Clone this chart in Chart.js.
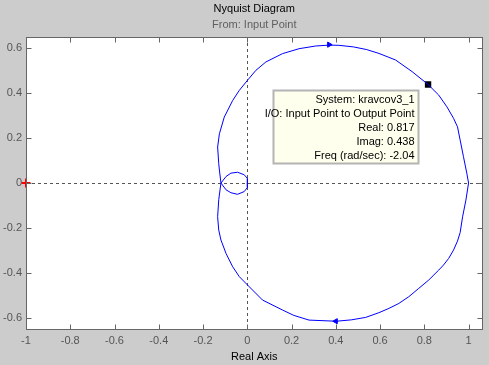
<!DOCTYPE html>
<html>
<head>
<meta charset="utf-8">
<script src="https://cdn.jsdelivr.net/npm/chart.js@4"></script>
<style>
  html, body { margin: 0; padding: 0; background: #cccccc; }
  #wrap { width: 489px; height: 365px; }
  canvas { background: #cccccc; }
</style>
</head>
<body>
<div id="wrap"><canvas id="myChart" width="489" height="365"></canvas></div>
<script>
// axis ticks
const xTickValues = [-1, -0.8, -0.6, -0.4, -0.2, 0, 0.2, 0.4, 0.6, 0.8, 1];
const yTickValues = [-0.6, -0.4, -0.2, 0, 0.2, 0.4, 0.6];

// nyquist curve (real, imag), starting at w = 0
const curveRe = [
  1.000, 0.988, 0.973, 0.962, 0.950, 0.932, 0.910, 0.887, 0.865, 0.820,
  0.775, 0.730, 0.685, 0.640, 0.595, 0.535, 0.470, 0.402, 0.279, 0.210,
  0.159, 0.069, 0.001, -0.036, -0.066, -0.096, -0.119, -0.129, -0.134, -0.129,
  -0.119,
  -0.096, -0.074, -0.044, -0.014, 0.001, 0.000,
  0.001, -0.014, -0.044, -0.074, -0.096, -0.119,
  -0.126, -0.129, -0.134, -0.126, -0.104, -0.066, -0.036, 0.003, 0.039, 0.084,
  0.159, 0.234, 0.309, 0.370, 0.414, 0.480, 0.540, 0.595, 0.670, 0.745,
  0.817, 0.865, 0.902, 0.932, 0.950, 0.962, 0.977, 0.992, 1.000
];
const curveIm = [
  0.000, -0.076, -0.150, -0.220, -0.258, -0.298, -0.335, -0.364, -0.387, -0.431,
  -0.468, -0.505, -0.535, -0.557, -0.576, -0.597, -0.608, -0.614, -0.609, -0.588,
  -0.564, -0.520, -0.453, -0.416, -0.372, -0.313, -0.253, -0.209, -0.150, -0.074,
  0.000,
  0.029, 0.044, 0.048, 0.037, 0.020, 0.000,
  -0.020, -0.038, -0.050, -0.043, -0.030, 0.000,
  0.058, 0.086, 0.160, 0.219, 0.293, 0.367, 0.412, 0.459, 0.501, 0.538,
  0.575, 0.597, 0.609, 0.613, 0.612, 0.605, 0.593, 0.576, 0.547, 0.495,
  0.438, 0.391, 0.339, 0.288, 0.250, 0.191, 0.117, 0.044, 0.000
];

// direction arrows
const arrowRe = [0.37, 0.40];
const arrowIm = [0.615, -0.614];

// data tip
const tipRe = 0.817;
const tipIm = 0.438;
const tipLines = [
  'System: kravcov3_1',
  'I/O: Input Point to Output Point',
  'Real: 0.817',
  'Imag: 0.438',
  'Freq (rad/sec): -2.04'
];

// critical point
const critRe = [-1];
const critIm = [0];

const FONT = 'Liberation Sans, Arial, sans-serif';
const toPoints = (re, im) => re.map((r, i) => ({ x: r, y: im[i] }));

const axesBox = {
  id: 'axesBox',
  beforeDatasetsDraw(chart) {
    const { ctx, chartArea: a, scales: { x, y } } = chart;
    ctx.save();
    ctx.fillStyle = '#ffffff';
    ctx.fillRect(a.left, a.top, a.right - a.left, a.bottom - a.top);
    // dashed zero lines
    ctx.strokeStyle = '#555555';
    ctx.lineWidth = 1;
    ctx.setLineDash([3, 3]);
    const x0 = Math.round(x.getPixelForValue(0)) + 0.5;
    const y0 = Math.round(y.getPixelForValue(0)) + 0.5;
    ctx.beginPath();
    ctx.moveTo(x0, a.top); ctx.lineTo(x0, a.bottom);
    ctx.moveTo(a.left, y0); ctx.lineTo(a.right, y0);
    ctx.stroke();
    ctx.restore();
  },
  afterDatasetsDraw(chart) {
    const { ctx, chartArea: a, scales: { x, y } } = chart;
    ctx.save();
    ctx.strokeStyle = '#666666';
    ctx.lineWidth = 1;
    const L = Math.round(a.left) + 0.5, R = Math.round(a.right) - 0.5;
    const T = Math.round(a.top) + 0.5, B = Math.round(a.bottom) - 0.5;
    ctx.beginPath();
    xTickValues.forEach(v => {
      const p = Math.round(x.getPixelForValue(v)) + 0.5;
      ctx.moveTo(p, T); ctx.lineTo(p, T + 5);
      ctx.moveTo(p, B); ctx.lineTo(p, B - 5);
    });
    yTickValues.forEach(v => {
      const p = Math.round(y.getPixelForValue(v)) + 0.5;
      ctx.moveTo(L, p); ctx.lineTo(L + 5, p);
      ctx.moveTo(R, p); ctx.lineTo(R - 5, p);
    });
    ctx.stroke();
    ctx.strokeRect(L, T, R - L, B - T);
    ctx.restore();
  },
  afterDraw(chart) {
    // data tip text box, hung off the marked point
    const { ctx, scales: { x, y } } = chart;
    const px = x.getPixelForValue(tipRe);
    const py = y.getPixelForValue(tipIm);
    const right = Math.round(px - 10) + 0.5;
    const top = Math.round(py + 6) + 0.5;
    const w = 145, h = 73;
    ctx.save();
    ctx.fillStyle = '#ffffee';
    ctx.strokeStyle = '#b4b4b4';
    ctx.fillRect(right - w, top, w, h);
    ctx.strokeRect(right - w, top, w, h);
    ctx.fillStyle = '#000000';
    ctx.font = '11px ' + FONT;
    ctx.textAlign = 'right';
    ctx.textBaseline = 'middle';
    tipLines.forEach((t, i) => ctx.fillText(t, right - 4, top + 9 + i * 14));
    ctx.restore();
  }
};

const ctx = document.getElementById('myChart').getContext('2d');
new Chart(ctx, {
  type: 'scatter',
  data: {
    datasets: [
      {
        data: toPoints(curveRe, curveIm),
        showLine: true,
        borderColor: '#0000ff',
        borderWidth: 1,
        pointRadius: 0,
        tension: 0,
      },
      {
        data: toPoints(arrowRe, arrowIm),
        pointStyle: 'triangle',
        rotation: [90, -90],
        pointRadius: 3,
        borderWidth: 1,
        borderColor: '#0000ff',
        backgroundColor: '#0000ff',
      },
      {
        data: [{ x: tipRe, y: tipIm }],
        pointStyle: 'rect',
        pointRadius: 4.5,
        borderWidth: 0,
        backgroundColor: '#000000',
      },
      {
        data: toPoints(critRe, critIm),
        pointStyle: 'cross',
        pointRadius: 4.5,
        borderWidth: 2,
        borderColor: '#ff0000',
        clip: false,
      },
    ],
  },
  options: {
    responsive: false,
    animation: false,
    events: [],
    layout: { padding: { left: 0, right: 5, top: 0, bottom: 0 } },
    plugins: {
      legend: { display: false },
      tooltip: { enabled: false },
      title: {
        display: true,
        fullSize: false,
        text: 'Nyquist Diagram',
        color: '#000000',
        font: { family: FONT, size: 11, weight: 'normal' },
        padding: { top: 2, bottom: 3 },
      },
      subtitle: {
        display: true,
        fullSize: false,
        text: 'From: Input Point',
        color: '#606060',
        font: { family: FONT, size: 11, weight: 'normal' },
        padding: { top: 0, bottom: 5.6 },
      },
    },
    scales: {
      x: {
        type: 'linear',
        min: -1,
        max: 1.063,
        afterBuildTicks: scale => { scale.ticks = xTickValues.map(v => ({ value: v })); },
        afterFit: scale => { scale.height = 35; },
        grid: { display: false, drawTicks: false },
        border: { display: false },
        ticks: {
          autoSkip: false,
          maxRotation: 0,
          padding: 4,
          color: '#555555',
          font: { family: FONT, size: 11 },
          callback: v => String(Math.round(v * 10) / 10),
        },
        title: {
          display: true,
          text: 'Real Axis',
          color: '#000000',
          font: { family: FONT, size: 11 },
          padding: { top: 0, bottom: 1 },
        },
      },
      y: {
        type: 'linear',
        min: -0.653,
        max: 0.649,
        afterBuildTicks: scale => { scale.ticks = yTickValues.map(v => ({ value: v })); },
        afterFit: scale => { scale.width = 26; },
        grid: { display: false, drawTicks: false },
        border: { display: false },
        ticks: {
          autoSkip: false,
          padding: 4,
          color: '#555555',
          font: { family: FONT, size: 11 },
          callback: v => String(Math.round(v * 10) / 10),
        },
      },
    },
  },
  plugins: [axesBox],
});
</script>
</body>
</html>
